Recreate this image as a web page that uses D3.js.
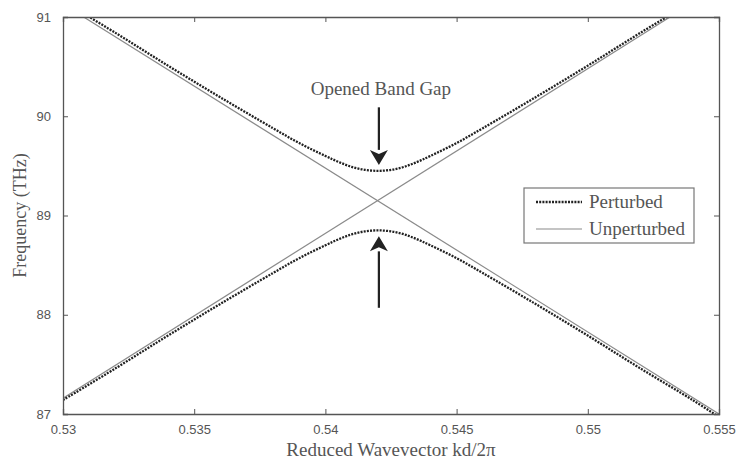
<!DOCTYPE html>
<html>
<head>
<meta charset="utf-8">
<script src="https://cdn.jsdelivr.net/npm/d3@7"></script>
<style>
  html, body { margin: 0; padding: 0; background: #fff; }
  svg { display: block; }
</style>
</head>
<body>
<svg id="chart" width="738" height="462"></svg>
<script>
// ---- data ----
const kValues   = [0.530, 0.532, 0.534, 0.536, 0.538, 0.539, 0.540, 0.5405, 0.541, 0.5415, 0.542,
                   0.5425, 0.543, 0.5435, 0.544, 0.545, 0.546, 0.548, 0.550, 0.552, 0.554, 0.555];
const upperBand = [91.16, 90.84, 90.51, 90.19, 89.88, 89.73, 89.60, 89.54, 89.49, 89.46, 89.45,
                   89.46, 89.49, 89.54, 89.60, 89.73, 89.88, 90.19, 90.51, 90.84, 91.16, 91.33];
const lowerBand = [87.14, 87.46, 87.79, 88.11, 88.42, 88.57, 88.70, 88.76, 88.81, 88.84, 88.85,
                   88.84, 88.81, 88.76, 88.70, 88.57, 88.42, 88.11, 87.79, 87.46, 87.14, 86.97];
const unpertK      = [0.530, 0.555];
const unpertDown   = [91.13, 87.00];
const unpertUp     = [87.16, 91.31];
const xTicks = [0.53, 0.535, 0.54, 0.545, 0.55, 0.555];
const xTickLabels = ["0.53", "0.535", "0.54", "0.545", "0.55", "0.555"];
const yTicks = [87, 88, 89, 90, 91];
const seriesNames = ["Perturbed", "Unperturbed"];
const annotationText = "Opened Band Gap";
const gapK = 0.542;
const downArrow = [90.09, 89.51];   // tail, tip
const upArrow   = [88.07, 88.79];   // tail, tip
const annotationY = 90.21;

// ---- layout ----
const svg = d3.select("#chart");
const L = 63, R = 719, T = 17, B = 414;
const x = d3.scaleLinear().domain([0.53, 0.555]).range([L, R]);
const y = d3.scaleLinear().domain([87, 91]).range([B, T]);
const axisColor = "#555";
const textColor = "#555";
const serif = "'Liberation Serif', 'Times New Roman', serif";
const sans = "'Liberation Sans', Arial, sans-serif";

svg.append("defs").append("clipPath").attr("id", "clip")
  .append("rect").attr("x", L).attr("y", T).attr("width", R - L).attr("height", B - T);

const plot = svg.append("g").attr("clip-path", "url(#clip)");
const line = d3.line().x(d => x(d[0])).y(d => y(d[1]));
const curve = d3.line().x(d => x(d[0])).y(d => y(d[1])).curve(d3.curveCatmullRom);

// unperturbed
[unpertDown, unpertUp].forEach(vals => {
  plot.append("path")
    .datum(unpertK.map((k, i) => [k, vals[i]]))
    .attr("d", line)
    .attr("fill", "none").attr("stroke", "#8a8a8a").attr("stroke-width", 1.2);
});
// perturbed
[upperBand, lowerBand].forEach(vals => {
  plot.append("path")
    .datum(kValues.map((k, i) => [k, vals[i]]))
    .attr("d", curve)
    .attr("fill", "none").attr("stroke", "#222").attr("stroke-width", 2.3)
    .attr("stroke-dasharray", "2,1.2");
});

// axes box
const xb = svg.append("g").attr("transform", `translate(0,${B})`)
  .call(d3.axisBottom(x).tickValues(xTicks).tickSize(-5).tickPadding(11)
        .tickFormat((d, i) => xTickLabels[i]));
const xt = svg.append("g").attr("transform", `translate(0,${T})`)
  .call(d3.axisTop(x).tickValues(xTicks).tickSize(-5).tickFormat(""));
const yl = svg.append("g").attr("transform", `translate(${L},0)`)
  .call(d3.axisLeft(y).tickValues(yTicks).tickSize(-5).tickPadding(12).tickFormat(d3.format("d")));
const yr = svg.append("g").attr("transform", `translate(${R},0)`)
  .call(d3.axisRight(y).tickValues(yTicks).tickSize(-5).tickFormat(""));
[xb, xt, yl, yr].forEach(g => {
  g.select(".domain").attr("stroke", axisColor).attr("stroke-width", 1.3);
  g.selectAll(".tick line").attr("stroke", axisColor);
  g.selectAll(".tick text").attr("fill", textColor).attr("font-family", sans).attr("font-size", 13);
});

// axis labels
svg.append("text").attr("x", 391).attr("y", 456)
  .attr("text-anchor", "middle").attr("font-family", serif).attr("font-size", 19)
  .attr("fill", textColor).text("Reduced Wavevector kd/2\u03C0");
svg.append("text").attr("transform", `translate(26,${(T + B) / 2}) rotate(-90)`)
  .attr("text-anchor", "middle").attr("font-family", serif).attr("font-size", 18)
  .attr("fill", textColor).text("Frequency (THz)");

// annotation
svg.append("text").attr("x", x(gapK) + 3).attr("y", y(annotationY))
  .attr("text-anchor", "middle").attr("font-family", serif).attr("font-size", 19)
  .attr("fill", textColor).text(annotationText);
function arrow(tail, tip) {
  const cx = x(gapK) + 1, y0 = y(tail), y1 = y(tip);
  const dir = Math.sign(y1 - y0), hl = 15, hw = 9;
  svg.append("line").attr("x1", cx).attr("x2", cx).attr("y1", y0).attr("y2", y1 - dir * hl)
    .attr("stroke", "#222").attr("stroke-width", 2.2);
  svg.append("path")
    .attr("d", `M${cx},${y1} L${cx - hw},${y1 - dir * hl} L${cx},${y1 - dir * (hl - 4)} L${cx + hw},${y1 - dir * hl} Z`)
    .attr("fill", "#222");
}
arrow(downArrow[0], downArrow[1]);
arrow(upArrow[0], upArrow[1]);

// legend
const lg = svg.append("g");
lg.append("rect").attr("x", 524).attr("y", 188).attr("width", 170).attr("height", 55)
  .attr("fill", "#fff").attr("stroke", "#777").attr("stroke-width", 1.2);
seriesNames.forEach((name, i) => {
  const yy = 202 + i * 27;
  lg.append("line").attr("x1", 536).attr("x2", 582).attr("y1", yy).attr("y2", yy)
    .attr("stroke", i === 0 ? "#222" : "#8a8a8a").attr("stroke-width", i === 0 ? 2.3 : 1.2)
    .attr("stroke-dasharray", i === 0 ? "2,1.2" : null);
  lg.append("text").attr("x", 589).attr("y", yy + 6).attr("font-family", serif).attr("font-size", 19)
    .attr("fill", textColor).text(name);
});
</script>
</body>
</html>
